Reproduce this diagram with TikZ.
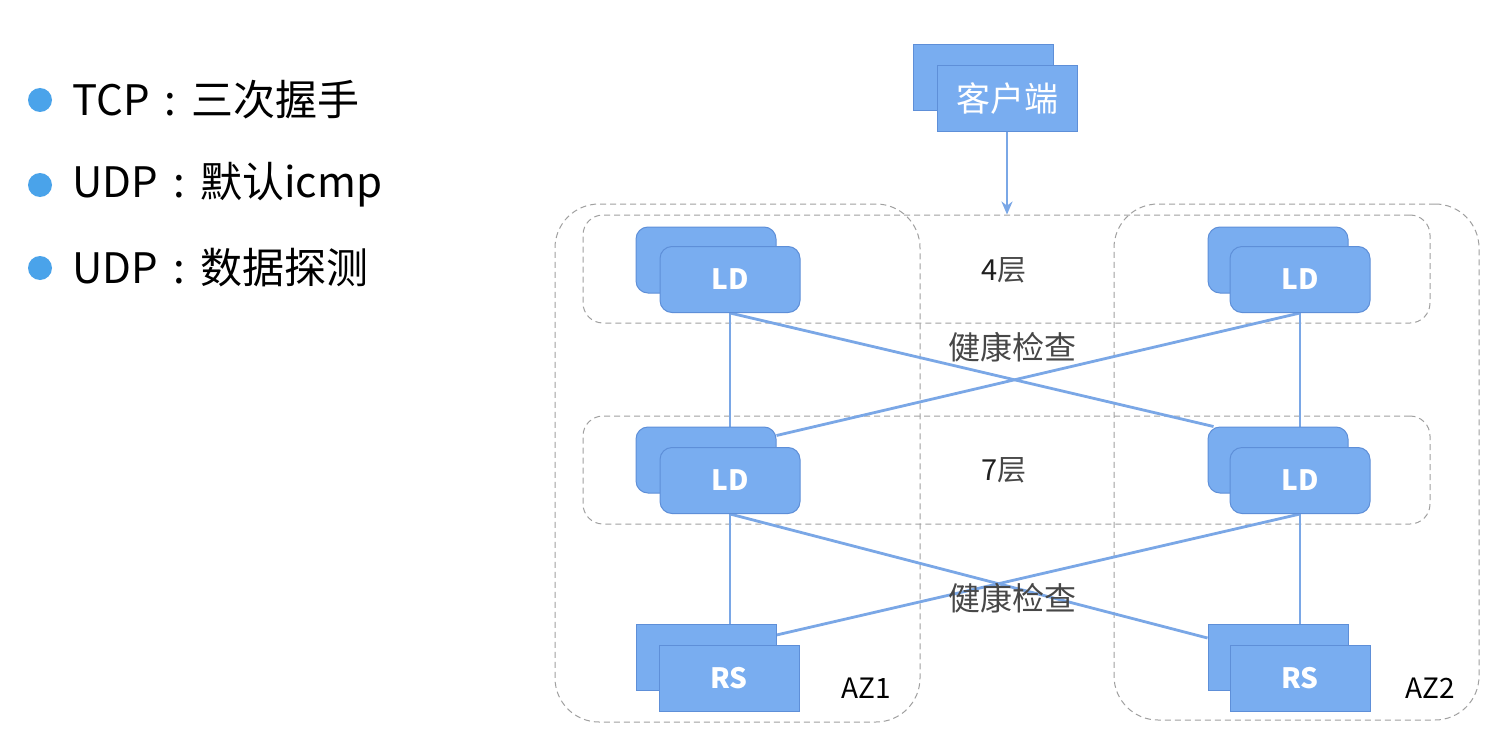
\documentclass[tikz,border=0pt]{standalone}
\usepackage{fontspec}
\setmainfont{Noto Sans CJK SC}
\usetikzlibrary{arrows.meta,calc}
\definecolor{boxblue}{HTML}{79ADF0}
\definecolor{boxedge}{HTML}{5E8FD8}
\definecolor{linkblue}{HTML}{7AA7E6}
\definecolor{bulletblue}{HTML}{4AA3EA}
\definecolor{dashgray}{HTML}{A0A0A0}
\pgfdeclarelayer{bg}
\pgfdeclarelayer{paper}
\pgfsetlayers{paper,bg,main}
\tikzset{
  sq/.style={fill=boxblue, draw=boxedge, line width=0.5pt, minimum width=70pt, minimum height=33pt, inner sep=0pt, text=white},
  ldbox/.style={sq, rounded corners=6pt, font=\fontsize{14}{16}\selectfont\bfseries},
  rsbox/.style={sq, font=\fontsize{14}{16}\selectfont\bfseries},
  zone/.style={draw=dashgray, line width=0.5pt, dash pattern=on 3pt off 2pt, inner sep=0pt},
  link/.style={draw=linkblue, line width=1.4pt},
  lbl/.style={text=black!72, inner sep=0pt},
  bul/.style={anchor=west, inner sep=0pt, font=\fontsize{21}{24}\selectfont},
  dot/.style={circle, fill=bulletblue, minimum size=12pt, inner sep=0pt}
}
\newcommand{\mycolon}{\makebox[1em]{:}}
\begin{document}
\begin{tikzpicture}[x=0.5pt,y=-0.5pt]
\begin{pgfonlayer}{paper}
\useasboundingbox[fill=white] (0,0) rectangle (1498,749);
\end{pgfonlayer}
% bullets
\node[dot] (d1) at (40,100) {};
\node[dot] (d2) at (40,185) {};
\node[dot] (d3) at (40,268) {};
\node[bul] (t1) at (72,100) {TCP\mycolon 三次握手};
\node[bul] (t2) at (72,185) {UDP\mycolon 默认icmp};
\node[bul] (t3) at (72,268) {UDP\mycolon 数据探测};
% zones
\begin{pgfonlayer}{bg}
\node[zone, rounded corners=22pt, minimum width=182.5pt, minimum height=259pt] (az1) at (737.5,463) {};
\node[zone, rounded corners=22pt, minimum width=182.5pt, minimum height=258pt] (az2) at (1296.5,462) {};
\node[zone, rounded corners=10pt, minimum width=423.5pt, minimum height=54pt] (l4) at (1006.5,269) {};
\node[zone, rounded corners=10pt, minimum width=423.5pt, minimum height=54pt] (l7) at (1006.5,470) {};
\end{pgfonlayer}
% client
\node[sq] (cb) at (983.5,77.5) {};
\node[sq, font=\fontsize{17}{20}\selectfont] (cf) at (1007,98.5) {客户端};
% LD top
\node[ldbox] (tlb) at (706,260) {};
\node[ldbox] (tlf) at (730,279.5) {LD};
\node[ldbox] (trb) at (1278,260) {};
\node[ldbox] (trf) at (1300,279.5) {LD};
% LD middle
\node[ldbox] (mlb) at (706,460) {};
\node[ldbox] (mlf) at (730,480.5) {LD};
\node[ldbox] (mrb) at (1278,460) {};
\node[ldbox] (mrf) at (1300,480.5) {LD};
% RS
\node[rsbox] (rlb) at (706,657.5) {};
\node[rsbox] (rlf) at (729,678) {RS};
\node[rsbox] (rrb) at (1278,657.5) {};
\node[rsbox] (rrf) at (1300,678) {RS};
% labels
\node[lbl, font=\fontsize{14.5}{16}\selectfont] (n4) at (1004,270) {{\color{black!88}4}层};
\node[lbl, font=\fontsize{14.5}{16}\selectfont] (n7) at (1004,470) {{\color{black!88}7}层};
\node[lbl, font=\fontsize{16}{18}\selectfont] (h1) at (1012,347) {健康检查};
\node[lbl, font=\fontsize{16}{18}\selectfont] (h2) at (1012,598) {健康检查};
\node[inner sep=0pt, font=\fontsize{14}{16}\selectfont] (a1) at (866,688) {AZ1};
\node[inner sep=0pt, font=\fontsize{14}{16}\selectfont] (a2) at (1430,688) {AZ2};
% connectors
\draw[link, line width=1.3pt, -{Stealth[length=6.5pt,width=5.5pt]}] (cf.south) -- (cf.south |- l4.north);
\begin{pgfonlayer}{bg}
\draw[link] (tlf.south) -- (tlf.south |- mlb.north);
\draw[link] (trf.south) -- (trf.south |- mrb.north);
\draw[link] (tlf.south) -- ([xshift=3pt]mrb.north west);
\draw[link] (trf.south) -- ([yshift=-4.5pt]mlb.north east);
\draw[link] (mlf.south) -- (mlf.south |- rlb.north);
\draw[link] (mrf.south) -- (mrf.south |- rrb.north);
\draw[link] (mlf.south) -- ([yshift=-7pt]rrb.north west);
\draw[link] (mrf.south) -- ([yshift=-5.5pt]rlb.north east);
\end{pgfonlayer}
\end{tikzpicture}
\end{document}
